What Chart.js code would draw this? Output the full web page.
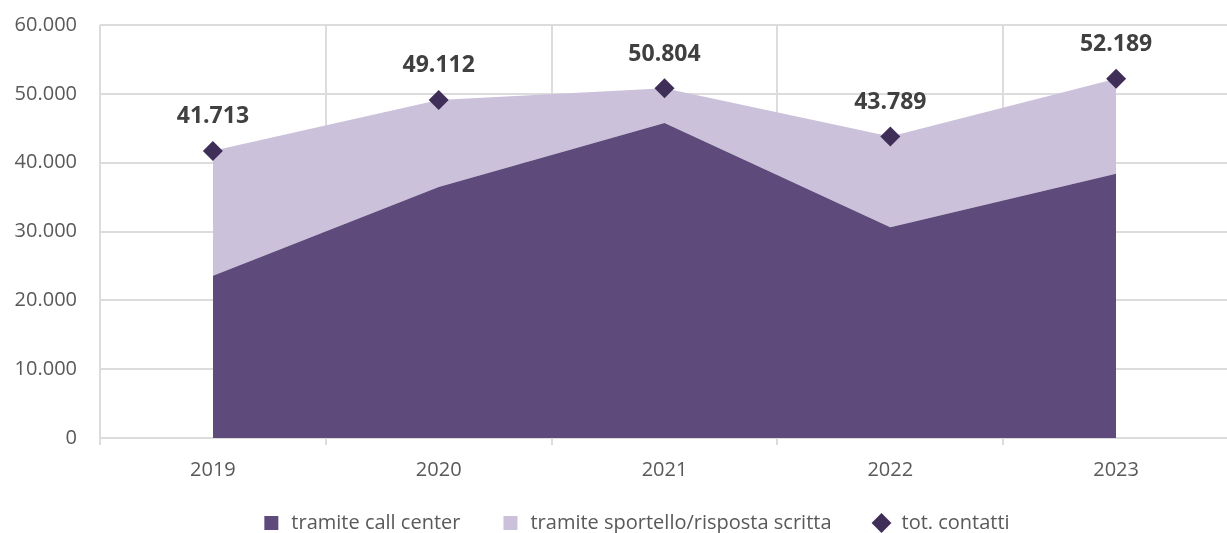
<!DOCTYPE html>
<html>
<head>
<meta charset="utf-8">
<script src="https://cdn.jsdelivr.net/npm/chart.js@4"></script>
<style>
  html, body { margin: 0; padding: 0; background: #fff; overflow: hidden; }
  #wrap { width: 1239px; height: 533px; position: relative; }
</style>
</head>
<body>
<div id="wrap"><canvas id="chart"></canvas></div>
<script>
// Values
const years = ['2019', '2020', '2021', '2022', '2023'];
const callCenter = [23580, 36460, 45750, 30610, 38380];
const sportello = [18133, 12652, 5054, 13179, 13809];
const totContatti = [41713, 49112, 50804, 43789, 52189];

const seriesNames = ['tramite call center', 'tramite sportello/risposta scritta', 'tot. contatti'];
const seriesColors = ['#5E4A7B', '#CBC1DA', '#3F2E57'];

// Italian thousands separator
const fmt = (v) => String(Math.round(v)).replace(/\B(?=(\d{3})+(?!\d))/g, '.');

const FONT = "'Open Sans', sans-serif";
const GRID = '#DCDCDC';

// Draw the total labels above the diamonds
const totalLabels = {
  id: 'totalLabels',
  afterLayout(chart) {
    // legend sits a bit right of centre and closer to the axis in the original
    chart.legend.left += 16;
    chart.legend.right += 16;
    chart.legend.top -= 10;
    chart.legend.bottom -= 10;
  },
  afterDatasetsDraw(chart) {
    const meta = chart.getDatasetMeta(2);
    const ctx = chart.ctx;
    ctx.save();
    ctx.font = `bold 23px ${FONT}`;
    ctx.fillStyle = '#404040';
    ctx.textAlign = 'center';
    ctx.textBaseline = 'middle';
    meta.data.forEach((pt, i) => {
      ctx.fillText(fmt(totContatti[i]), pt.x, pt.y - 34);
    });
    ctx.restore();
  }
};

const ctx = document.getElementById('chart').getContext('2d');

new Chart(ctx, {
  type: 'line',
  data: {
    labels: years,
    datasets: [
      {
        label: seriesNames[0],
        data: callCenter,
        backgroundColor: seriesColors[0],
        borderWidth: 0,
        pointRadius: 0,
        fill: 'origin',
        order: 1
      },
      {
        label: seriesNames[1],
        data: sportello,
        backgroundColor: seriesColors[1],
        borderWidth: 0,
        pointRadius: 0,
        fill: '-1',
        order: 1
      },
      {
        label: seriesNames[2],
        data: totContatti,
        stack: 'tot',
        showLine: false,
        fill: false,
        pointStyle: 'rectRot',
        pointRadius: 10,
        backgroundColor: seriesColors[2],
        borderColor: seriesColors[2],
        borderWidth: 0,
        order: 0
      }
    ]
  },
  options: {
    responsive: true,
    maintainAspectRatio: false,
    animation: false,
    layout: {
      padding: { top: 25, left: 0, right: 0, bottom: -20 }
    },
    scales: {
      x: {
        offset: true,
        afterFit: (scale) => { scale.height -= 12; },
        grid: {
          offset: true,
          color: GRID,
          lineWidth: 2,
          tickLength: 7
        },
        border: { color: GRID, width: 2 },
        ticks: {
          color: '#595959',
          font: { family: FONT, size: 20 },
          padding: 13
        }
      },
      y: {
        stacked: true,
        min: 0,
        max: 60000,
        afterFit: (scale) => {
          scale.width = 100;
          scale.paddingTop = 0;
          scale.paddingBottom = 0;
        },
        grid: {
          color: GRID,
          lineWidth: 2,
          drawTicks: false
        },
        border: { display: false },
        ticks: {
          stepSize: 10000,
          color: '#595959',
          font: { family: FONT, size: 20 },
          padding: 23,
          callback: (v) => fmt(v)
        }
      }
    },
    plugins: {
      tooltip: { enabled: false },
      legend: {
        position: 'bottom',
        labels: {
          color: '#595959',
          font: { family: FONT, size: 20 },
          usePointStyle: true,
          boxHeight: 14,
          padding: 40,
          generateLabels: (chart) => chart.data.datasets.map((ds, i) => ({
            text: ds.label,
            fillStyle: seriesColors[i],
            strokeStyle: seriesColors[i],
            lineWidth: 0,
            pointStyle: i === 2 ? 'rectRot' : 'rect',
            fontColor: '#595959',
            hidden: false,
            datasetIndex: i
          }))
        }
      }
    }
  },
  plugins: [totalLabels]
});
</script>
</body>
</html>
